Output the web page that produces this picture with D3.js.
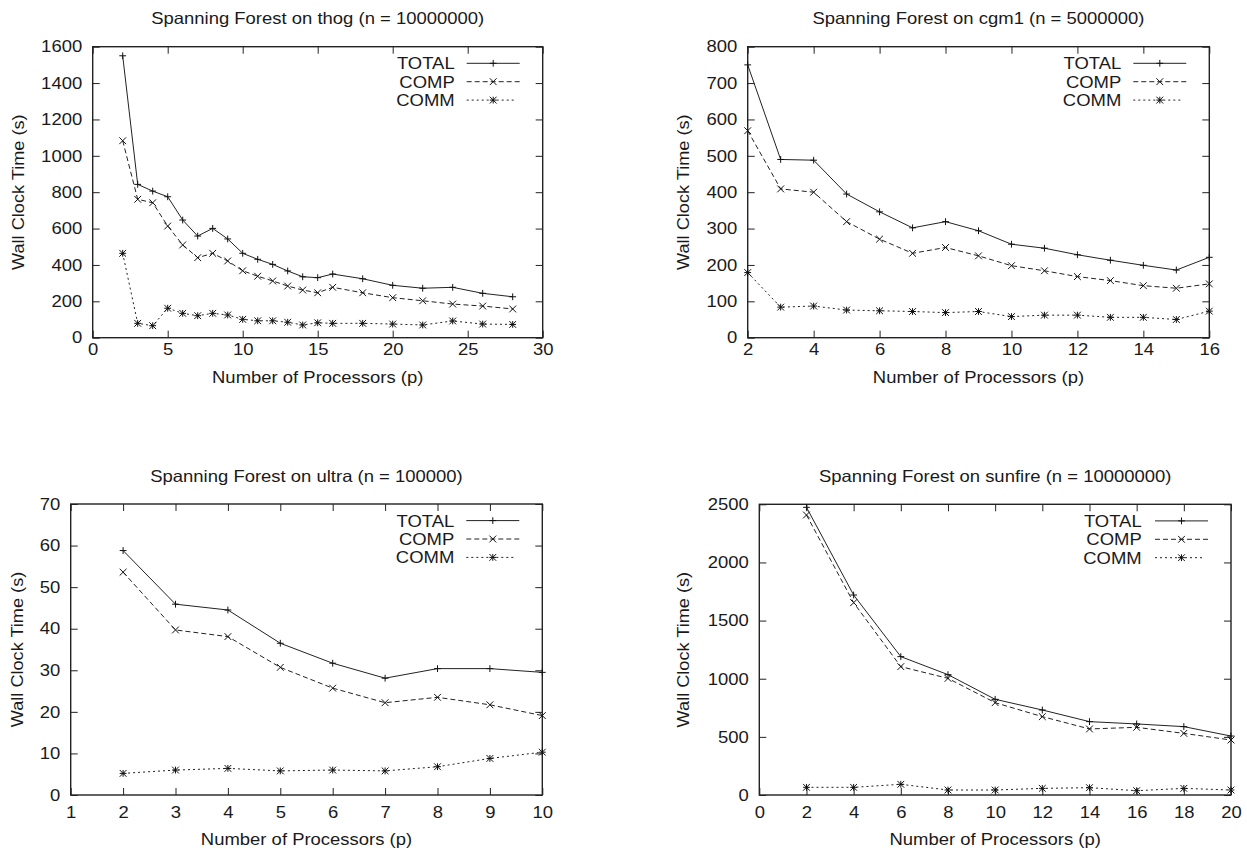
<!DOCTYPE html>
<html>
<head>
<meta charset="utf-8">
<script src="https://cdn.jsdelivr.net/npm/d3@7"></script>
<style>
  body { margin: 0; background: #fff; }
  svg text { font-family: "Liberation Sans", Arial, Helvetica, sans-serif; fill: #1a1a1a; }
</style>
</head>
<body>
<div id="drawing_region"></div>
<script>
// ---- data ----
const seriesNames = ['TOTAL', 'COMP', 'COMM'];

const thogP     = [2, 3, 4, 5, 6, 7, 8, 9, 10, 11, 12, 13, 14, 15, 16, 18, 20, 22, 24, 26, 28];
const thogTotal = [1550, 843, 806, 775, 647, 559, 601, 543, 464, 431, 403, 367, 335, 330, 350, 324, 288, 272, 277, 244, 225];
const thogComp  = [1083, 761, 742, 614, 510, 440, 464, 422, 368, 338, 312, 284, 262, 247, 277, 247, 220, 203, 185, 174, 158];
const thogComm  = [464, 79, 66, 162, 134, 121, 134, 125, 101, 93, 93, 85, 70, 82, 79, 79, 75, 70, 92, 75, 73];

const cgm1P     = [2, 3, 4, 5, 6, 7, 8, 9, 10, 11, 12, 13, 14, 15, 16];
const cgm1Total = [750, 490, 488, 395, 346, 302, 319, 294, 257, 246, 228, 213, 199, 186, 221];
const cgm1Comp  = [569, 409, 400, 319, 271, 232, 248, 225, 198, 184, 168, 157, 143, 136, 148];
const cgm1Comm  = [179, 84, 87, 76, 74, 72, 69, 72, 58, 62, 62, 56, 56, 50, 73];

const ultraP     = [2, 3, 4, 5, 6, 7, 8, 9, 10];
const ultraTotal = [58.8, 45.9, 44.5, 36.5, 31.7, 28.1, 30.4, 30.4, 29.5];
const ultraComp  = [53.6, 39.7, 38.1, 30.7, 25.7, 22.2, 23.5, 21.7, 19.1];
const ultraComm  = [5.2, 6.0, 6.4, 5.8, 6.0, 5.8, 6.8, 8.8, 10.3];

const sunfireP     = [2, 4, 6, 8, 10, 12, 14, 16, 18, 20];
const sunfireTotal = [2474, 1720, 1190, 1035, 823, 731, 631, 611, 588, 507];
const sunfireComp  = [2408, 1654, 1104, 1003, 794, 674, 568, 582, 530, 473];
const sunfireComm  = [66, 66, 92, 43, 43, 57, 63, 37, 57, 43];

// tick labels
const thogXTicks = d3.range(0, 31, 5),   thogYTicks = d3.range(0, 1601, 200);
const cgm1XTicks = d3.range(2, 17, 2),   cgm1YTicks = d3.range(0, 801, 100);
const ultraXTicks = d3.range(1, 11, 1),  ultraYTicks = d3.range(0, 71, 10);
const sunfireXTicks = d3.range(0, 21, 2), sunfireYTicks = d3.range(0, 2501, 500);

// ---- drawing ----
const SX = 1.12;        // the scan is a bit wider than tall
const FONT = 16.5;

const svg = d3.select('#drawing_region')
    .append('svg')
    .attr('width', 1247)
    .attr('height', 853);

const styles = [
    { dash: null,  marker: 'plus' },
    { dash: '5,3', marker: 'cross' },
    { dash: '2,3', marker: 'star' }
];

function markerPath(type, r) {
    const plus = `M${-r},0H${r}M0,${-r}V${r}`;
    const cross = `M${-r},${-r}L${r},${r}M${-r},${r}L${r},${-r}`;
    if (type === 'plus') return plus;
    if (type === 'cross') return cross;
    return plus + cross;
}

function drawPanel(cfg) {
    const g = svg.append('g');
    const xscale = d3.scaleLinear().domain(cfg.xdomain).range([cfg.left, cfg.right]);
    const yscale = d3.scaleLinear().domain(cfg.ydomain).range([cfg.bottom, cfg.top]);

    // axes (inward ticks, mirrored)
    const bottomAxis = g.append('g')
        .attr('transform', `translate(0,${cfg.bottom})`)
        .call(d3.axisBottom(xscale).tickValues(cfg.xticks).tickSize(-7)
            .tickPadding(cfg.xpad).tickFormat(d3.format('d')));
    bottomAxis.selectAll('text').attr('transform', `scale(${SX},1)`);

    g.append('g')
        .attr('transform', `translate(0,${cfg.top})`)
        .call(d3.axisTop(xscale).tickValues(cfg.xticks).tickSize(-7).tickFormat(''));

    const leftAxis = g.append('g')
        .attr('transform', `translate(${cfg.left},0)`)
        .call(d3.axisLeft(yscale).tickValues(cfg.yticks).tickSize(-7)
            .tickPadding(10.5).tickFormat(d3.format('d')));
    leftAxis.selectAll('text').attr('x', -10.5 / SX).attr('transform', `scale(${SX},1)`);

    g.append('g')
        .attr('transform', `translate(${cfg.right},0)`)
        .call(d3.axisRight(yscale).tickValues(cfg.yticks).tickSize(-7).tickFormat(''));

    g.selectAll('.domain').remove();
    g.selectAll('.tick line').attr('stroke', '#222').attr('stroke-width', 1);
    g.selectAll('.tick text').style('font-size', FONT + 'px').attr('fill', '#1a1a1a')
        .style('font-family', '"Liberation Sans", Arial, sans-serif');

    g.append('rect')
        .attr('x', cfg.left).attr('y', cfg.top)
        .attr('width', cfg.right - cfg.left).attr('height', cfg.bottom - cfg.top)
        .attr('fill', 'none').attr('stroke', '#222').attr('stroke-width', 1.4);

    // series
    const line = d3.line()
        .x(d => xscale(d[0]))
        .y(d => yscale(d[1]));

    cfg.series.forEach((vals, i) => {
        const pts = cfg.p.map((p, k) => [p, vals[k]]);
        g.append('path')
            .datum(pts)
            .attr('d', line)
            .attr('fill', 'none')
            .attr('stroke', '#222')
            .attr('stroke-width', 1)
            .attr('stroke-dasharray', styles[i].dash);
        g.selectAll(null)
            .data(pts)
            .join('path')
            .attr('transform', d => `translate(${xscale(d[0])},${yscale(d[1])})`)
            .attr('d', markerPath(styles[i].marker, 3.4))
            .attr('stroke', '#111')
            .attr('stroke-width', 1);
    });

    // legend
    seriesNames.forEach((name, i) => {
        const yy = cfg.top + 16.6 + i * 18.4;
        g.append('text')
            .attr('transform', `translate(${cfg.right + cfg.legendDx},${yy}) scale(${SX},1)`)
            .attr('dy', '0.36em')
            .attr('text-anchor', 'end')
            .style('font-size', FONT + 'px')
            .text(name);
        const x0 = cfg.right - 76, x1 = cfg.right - 23;
        g.append('line')
            .attr('x1', x0).attr('x2', i === 2 ? x1 - 4 : x1)
            .attr('y1', yy).attr('y2', yy)
            .attr('stroke', '#222').attr('stroke-width', 1)
            .attr('stroke-dasharray', styles[i].dash);
        g.append('path')
            .attr('transform', `translate(${(x0 + x1) / 2},${yy})`)
            .attr('d', markerPath(styles[i].marker, 3.4))
            .attr('stroke', '#111').attr('stroke-width', 1);
    });

    // title and axis titles
    const cx = (cfg.left + cfg.right) / 2;
    g.append('text')
        .attr('transform', `translate(${cx},${cfg.top - 22.5}) scale(${SX},1)`)
        .attr('text-anchor', 'middle')
        .style('font-size', FONT + 'px')
        .text(cfg.title);

    g.append('text')
        .attr('transform', `translate(${cx},${cfg.bottom + cfg.xlabelDy}) scale(${SX},1)`)
        .attr('text-anchor', 'middle')
        .style('font-size', FONT + 'px')
        .text('Number of Processors (p)');

    g.append('text')
        .attr('transform', `translate(${cfg.ylabelX},${(cfg.top + cfg.bottom) / 2}) rotate(-90) scale(1.1,1)`)
        .attr('text-anchor', 'middle')
        .attr('dy', '0.36em')
        .style('font-size', FONT + 'px')
        .text('Wall Clock Time (s)');
}

drawPanel({
    title: 'Spanning Forest on thog (n = 10000000)',
    left: 92.7, right: 542.7, top: 46.7, bottom: 337.7,
    xdomain: [0, 30], ydomain: [0, 1600], xticks: thogXTicks, yticks: thogYTicks,
    xpad: 5.7, xlabelDy: 45, ylabelX: 18, legendDx: -88,
    p: thogP, series: [thogTotal, thogComp, thogComm]
});

drawPanel({
    title: 'Spanning Forest on cgm1 (n = 5000000)',
    left: 747.7, right: 1209.3, top: 46.7, bottom: 337.7,
    xdomain: [2, 16], ydomain: [0, 800], xticks: cgm1XTicks, yticks: cgm1YTicks,
    xpad: 5.7, xlabelDy: 45, ylabelX: 683, legendDx: -88,
    p: cgm1P, series: [cgm1Total, cgm1Comp, cgm1Comm]
});

drawPanel({
    title: 'Spanning Forest on ultra (n = 100000)',
    left: 70.7, right: 542.3, top: 504, bottom: 795,
    xdomain: [1, 10], ydomain: [0, 70], xticks: ultraXTicks, yticks: ultraYTicks,
    xpad: 11.7, xlabelDy: 50, ylabelX: 16.7, legendDx: -88,
    p: ultraP, series: [ultraTotal, ultraComp, ultraComm]
});

drawPanel({
    title: 'Spanning Forest on sunfire (n = 10000000)',
    left: 759.3, right: 1231, top: 504.3, bottom: 795,
    xdomain: [0, 20], ydomain: [0, 2500], xticks: sunfireXTicks, yticks: sunfireYTicks,
    xpad: 11.7, xlabelDy: 50, ylabelX: 683, legendDx: -89.3,
    p: sunfireP, series: [sunfireTotal, sunfireComp, sunfireComm]
});
</script>
</body>
</html>
